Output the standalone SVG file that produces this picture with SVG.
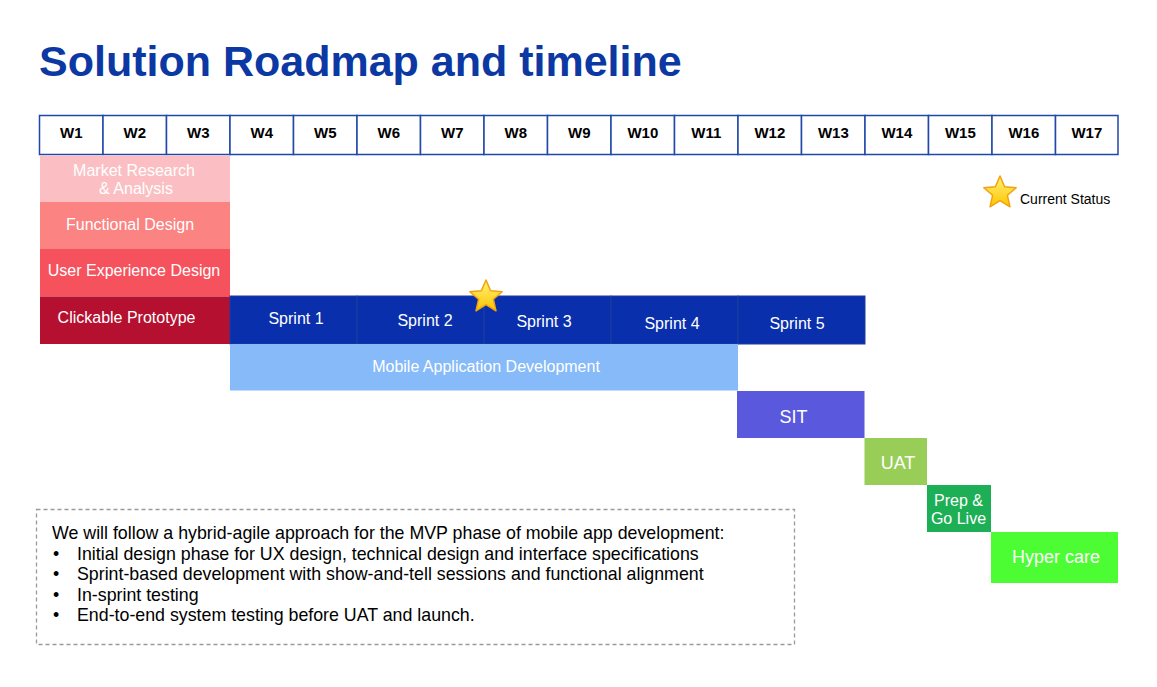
<svg xmlns="http://www.w3.org/2000/svg" width="1157" height="687" viewBox="0 0 1157 687">
  <defs>
    <style>
      text { font-family: "Liberation Sans", Arial, Helvetica, sans-serif; }
      .title { font-size: 43px; font-weight: bold; fill: #0b38a3; }
      .wk { fill: #ffffff; stroke: #1f48a8; stroke-width: 1.5; }
      .wkt { font-size: 15px; font-weight: bold; fill: #000; text-anchor: middle; }
      .lbl { font-size: 16px; fill: #ffffff; text-anchor: middle; }
      .big { font-size: 18px; fill: #ffffff; text-anchor: middle; }
      .note { font-size: 17.8px; fill: #000; }
      .sprint { fill: #0a2fad; stroke: #1d3f9e; stroke-width: 1; }
    </style>
    <linearGradient id="starFill" x1="0" y1="0" x2="0" y2="1">
      <stop offset="0" stop-color="#fff27a"/>
      <stop offset="1" stop-color="#ffc400"/>
    </linearGradient>
    <polygon id="star" points="0,-17 4.6,-6.3 16.2,-5.3 7.4,2.3 10,13.8 0,7.7 -10,13.8 -7.4,2.3 -16.2,-5.3 -4.6,-6.3"
             fill="url(#starFill)" stroke="#f2a20c" stroke-width="1.5" stroke-linejoin="round"/>
  </defs>

  <rect width="1157" height="687" fill="#ffffff"/>

  <text class="title" x="39" y="76">Solution Roadmap and timeline</text>

  <!-- week header -->
  <g id="weeks">
    <rect class="wk" x="39.5" y="115.5" width="63.5" height="39"/><text class="wkt" x="71.3" y="138">W1</text>
    <rect class="wk" x="103" y="115.5" width="63.5" height="39"/><text class="wkt" x="134.8" y="138">W2</text>
    <rect class="wk" x="166.5" y="115.5" width="63.5" height="39"/><text class="wkt" x="198.3" y="138">W3</text>
    <rect class="wk" x="230" y="115.5" width="63.5" height="39"/><text class="wkt" x="261.8" y="138">W4</text>
    <rect class="wk" x="293.5" y="115.5" width="63.5" height="39"/><text class="wkt" x="325.3" y="138">W5</text>
    <rect class="wk" x="357" y="115.5" width="63.5" height="39"/><text class="wkt" x="388.8" y="138">W6</text>
    <rect class="wk" x="420.5" y="115.5" width="63.5" height="39"/><text class="wkt" x="452.3" y="138">W7</text>
    <rect class="wk" x="484" y="115.5" width="63.5" height="39"/><text class="wkt" x="515.8" y="138">W8</text>
    <rect class="wk" x="547.5" y="115.5" width="63.5" height="39"/><text class="wkt" x="579.3" y="138">W9</text>
    <rect class="wk" x="611" y="115.5" width="63.5" height="39"/><text class="wkt" x="642.8" y="138">W10</text>
    <rect class="wk" x="674.5" y="115.5" width="63.5" height="39"/><text class="wkt" x="706.3" y="138">W11</text>
    <rect class="wk" x="738" y="115.5" width="63.5" height="39"/><text class="wkt" x="769.8" y="138">W12</text>
    <rect class="wk" x="801.5" y="115.5" width="63.5" height="39"/><text class="wkt" x="833.3" y="138">W13</text>
    <rect class="wk" x="865" y="115.5" width="63.5" height="39"/><text class="wkt" x="896.8" y="138">W14</text>
    <rect class="wk" x="928.5" y="115.5" width="63.5" height="39"/><text class="wkt" x="960.3" y="138">W15</text>
    <rect class="wk" x="992" y="115.5" width="63.5" height="39"/><text class="wkt" x="1023.8" y="138">W16</text>
    <rect class="wk" x="1055.5" y="115.5" width="62.5" height="39"/><text class="wkt" x="1086.8" y="138">W17</text>
  </g>

  <!-- design phase -->
  <g id="market-research">
    <rect x="40" y="155.5" width="190" height="46.5" fill="#fbbfc3"/>
    <text class="lbl" x="134" y="176">Market Research</text>
    <text class="lbl" x="136" y="194">&amp; Analysis</text>
  </g>
  <g id="functional-design">
    <rect x="40" y="202" width="190" height="47" fill="#fb8382"/>
    <text class="lbl" x="130" y="229.5">Functional Design</text>
  </g>
  <g id="ux-design">
    <rect x="40" y="249" width="190" height="47.5" fill="#f6525e"/>
    <text class="lbl" x="134" y="275.5">User Experience Design</text>
  </g>
  <g id="clickable-prototype">
    <rect x="40" y="296.5" width="190" height="47.5" fill="#b5102f"/>
    <text class="lbl" x="126.5" y="322.5">Clickable Prototype</text>
  </g>

  <!-- development sprints -->
  <g id="sprint-1">
    <rect class="sprint" x="230" y="296" width="127" height="48"/>
    <text class="lbl" x="296" y="323.5">Sprint 1</text>
  </g>
  <g id="sprint-2">
    <rect class="sprint" x="357" y="296" width="127" height="48"/>
    <text class="lbl" x="425" y="326">Sprint 2</text>
  </g>
  <g id="sprint-3">
    <rect class="sprint" x="484" y="296" width="127" height="48"/>
    <text class="lbl" x="544" y="327">Sprint 3</text>
  </g>
  <g id="sprint-4">
    <rect class="sprint" x="611" y="296" width="127" height="48"/>
    <text class="lbl" x="672" y="328.5">Sprint 4</text>
  </g>
  <g id="sprint-5">
    <rect class="sprint" x="738" y="296" width="127" height="48"/>
    <text class="lbl" x="797" y="328.5">Sprint 5</text>
  </g>

  <g id="mobile-app-dev">
    <rect x="230" y="344" width="508" height="46.5" fill="#86baf8"/>
    <text class="lbl" x="486" y="372">Mobile Application Development</text>
  </g>

  <!-- testing and launch -->
  <g id="sit">
    <rect x="737" y="391" width="127.5" height="47" fill="#5a58dc"/>
    <text class="big" x="793.5" y="423">SIT</text>
  </g>
  <g id="uat">
    <rect x="864.5" y="438" width="62.5" height="47" fill="#98cd58"/>
    <text class="big" x="898" y="469">UAT</text>
  </g>
  <g id="go-live">
    <rect x="927" y="485" width="64" height="47" fill="#1daf55"/>
    <text class="lbl" x="958.5" y="505.5">Prep &amp;</text>
    <text class="lbl" x="958.5" y="524">Go Live</text>
  </g>
  <g id="hyper-care">
    <rect x="991" y="532" width="127" height="51" fill="#4bfd32"/>
    <text class="big" x="1056" y="563">Hyper care</text>
  </g>

  <!-- status markers -->
  <g id="current-status-marker">
    <use href="#star" x="486" y="297"/>
  </g>
  <g id="legend">
    <use href="#star" x="1000" y="193"/>
    <text x="1020" y="203.5" font-size="14" fill="#000">Current Status</text>
  </g>

  <!-- approach note -->
  <g id="approach-note">
    <rect x="36.5" y="509.5" width="758" height="135" fill="none" stroke="#9a9a9a" stroke-width="1.3" stroke-dasharray="4 3"/>
    <text class="note" x="52" y="539">We will follow a hybrid-agile approach for the MVP phase of mobile app development:</text>
    <text class="note" x="53" y="559.5">•</text>
    <text class="note" x="77" y="559.5">Initial design phase for UX design, technical design and interface specifications</text>
    <text class="note" x="53" y="580">•</text>
    <text class="note" x="77" y="580">Sprint-based development with show-and-tell sessions and functional alignment</text>
    <text class="note" x="53" y="600.5">•</text>
    <text class="note" x="77" y="600.5">In-sprint testing</text>
    <text class="note" x="53" y="621">•</text>
    <text class="note" x="77" y="621">End-to-end system testing before UAT and launch.</text>
  </g>
</svg>
